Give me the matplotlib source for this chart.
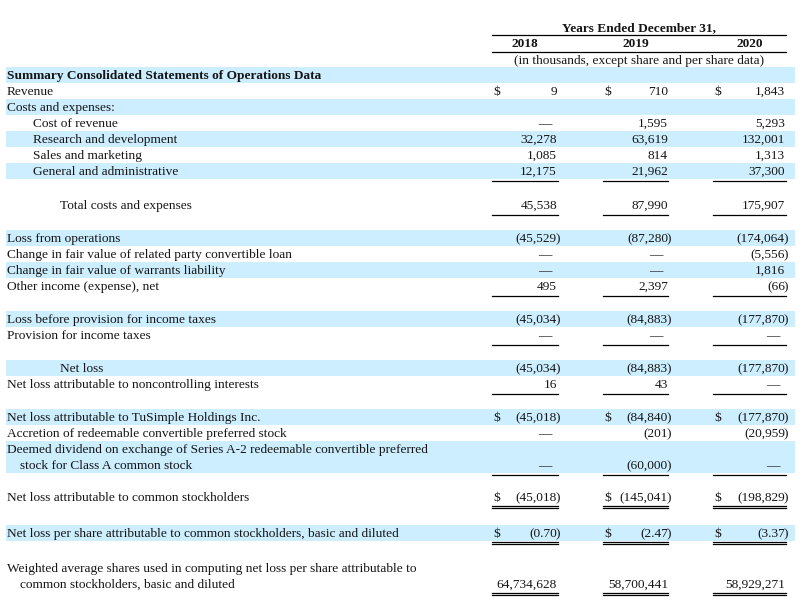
import matplotlib
matplotlib.use("Agg")
import matplotlib.pyplot as plt
from matplotlib.patches import Rectangle

# ---------------- data ----------------
years = ["2018", "2019", "2020"]
header_title = "Years Ended December 31,"
header_note = "(in thousands, except share and per share data)"

row_labels = [
    ["Summary Consolidated Statements of Operations Data"],
    ["Revenue"],
    ["Costs and expenses:"],
    ["Cost of revenue"],
    ["Research and development"],
    ["Sales and marketing"],
    ["General and administrative"],
    ["Total costs and expenses"],
    ["Loss from operations"],
    ["Change in fair value of related party convertible loan"],
    ["Change in fair value of warrants liability"],
    ["Other income (expense), net"],
    ["Loss before provision for income taxes"],
    ["Provision for income taxes"],
    ["Net loss"],
    ["Net loss attributable to noncontrolling interests"],
    ["Net loss attributable to TuSimple Holdings Inc."],
    ["Accretion of redeemable convertible preferred stock"],
    ["Deemed dividend on exchange of Series A-2 redeemable convertible preferred",
     "stock for Class A common stock"],
    ["Net loss attributable to common stockholders"],
    ["Net loss per share attributable to common stockholders, basic and diluted"],
    ["Weighted average shares used in computing net loss per share attributable to",
     "common stockholders, basic and diluted"],
]

DASH = "dash"
values_2018 = [None, 9, None, DASH, 32278, 1085, 12175, 45538, -45529, DASH, DASH, 495,
               -45034, DASH, -45034, 16, -45018, DASH, DASH, -45018, -0.70, 64734628]
values_2019 = [None, 710, None, 1595, 63619, 814, 21962, 87990, -87280, DASH, DASH, 2397,
               -84883, DASH, -84883, 43, -84840, -201, -60000, -145041, -2.47, 58700441]
values_2020 = [None, 1843, None, 5293, 132001, 1313, 37300, 175907, -174064, -5556, 1816, -66,
               -177870, DASH, -177870, DASH, -177870, -20959, DASH, -198829, -3.37, 58929271]
decimals = [0] * 20 + [2, 0]

# ---------------- styles / layout ----------------
indent = [0, 0, 0, 1, 1, 1, 1, 2, 0, 0, 0, 0, 0, 0, 2, 0, 0, 0, 0, 0, 0, 0]
bold_rows = {0}
band_rows = {0, 2, 4, 6, 8, 10, 12, 14, 16, 18, 20}
dollar_rows = {1, 16, 19, 20}
single_rule_rows = {6, 7, 11, 13, 15, 18}
double_rule_rows = {19, 20, 21}
gap_before = [0, 0, 0, 0, 0, 0, 0, 18, 17, 0, 0, 0, 17, 0, 17, 0, 17, 0, 0, 16, 20, 19]

PITCH = 16
FS = 9.6
FONT = "Liberation Serif"
TY = 1.2  # text baseline nudge

col_left = [492, 603, 713]
col_right = [558, 668, 786]
num_right = [557, 668, 785]

fig = plt.figure(figsize=(8.04, 6.03), dpi=100)
ax = fig.add_axes([0, 0, 1, 1])
ax.set_xlim(0, 804)
ax.set_ylim(603, 0)
ax.axis("off")

def txt(x, y, s, ha="left", bold=False, size=FS):
    ax.text(x, y + TY, s, ha=ha, va="center", fontsize=size, family=FONT,
            fontweight="bold" if bold else "normal", color="#151515")

# header
x_mid = (col_left[0] + col_right[2]) / 2
txt(x_mid, 26.5, header_title, ha="center", bold=True)
ax.plot([col_left[0], col_right[2]], [34.5, 34.5], color="black", lw=0.9)
for i, yr in enumerate(years):
    txt((col_left[i] + col_right[i]) / 2, 42.5, yr, ha="center", bold=True)
ax.plot([col_left[0], col_right[2]], [51.5, 51.5], color="black", lw=0.9)
txt(x_mid, 60, header_note, ha="center")

def fmt(v, d):
    return f"{abs(v):,.{d}f}"

all_vals = [values_2018, values_2019, values_2020]
y = 75
indent_x = [7, 33, 60]
for r, lines in enumerate(row_labels):
    y += gap_before[r]
    nlines = len(lines)
    y_last = y + PITCH * (nlines - 1)
    if r in band_rows:
        ax.add_patch(Rectangle((6, y - 8), 789, PITCH * nlines, facecolor="#CCEEFF",
                               edgecolor="none", zorder=0))
    for k, line in enumerate(lines):
        x0 = indent_x[indent[r]] if k == 0 else 20
        txt(x0, y + PITCH * k, line, bold=(r in bold_rows))
    for c in range(3):
        v = all_vals[c][r]
        if v is None:
            continue
        if r in dollar_rows:
            txt(col_left[c] + 1, y_last, "$")
        if v == DASH:
            txt(num_right[c] - 6, y_last, "\u2014", ha="right")
        elif v < 0:
            txt(num_right[c], y_last, "(" + fmt(v, decimals[r]), ha="right")
            txt(num_right[c] - 1.2, y_last, ")", ha="left")
        else:
            txt(num_right[c], y_last, fmt(v, decimals[r]), ha="right")
        if r in single_rule_rows:
            ax.plot([col_left[c], col_right[c]], [y_last + 9.5] * 2, color="black", lw=0.9)
        if r in double_rule_rows:
            ax.plot([col_left[c], col_right[c]], [y_last + 9] * 2, color="black", lw=0.9)
            ax.plot([col_left[c], col_right[c]], [y_last + 11.2] * 2, color="black", lw=0.9)
    y = y_last + PITCH

fig.savefig("out.png", dpi=100)
